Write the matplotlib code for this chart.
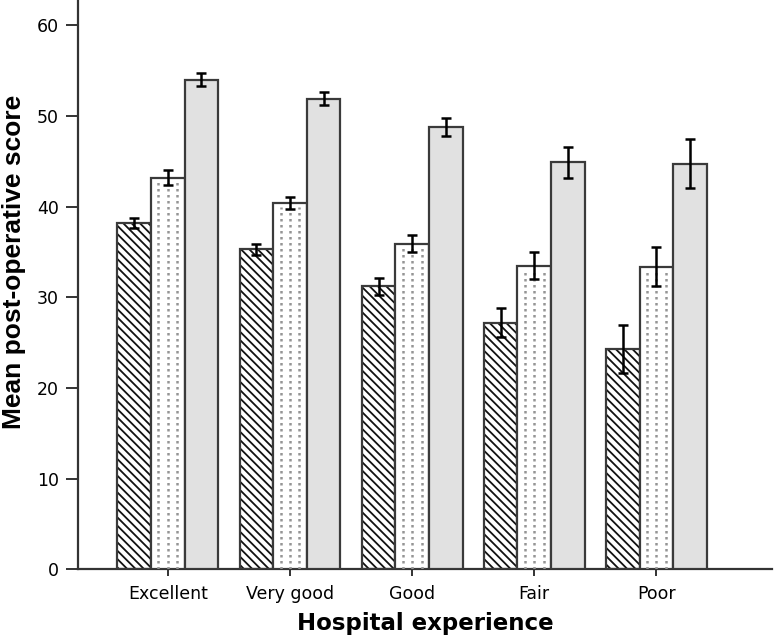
import numpy as np
import matplotlib
matplotlib.use("Agg")
import matplotlib.pyplot as plt

# --------------------------------------------------
# Data
# --------------------------------------------------
categories = ["Excellent", "Very good", "Good", "Fair", "Poor"]

hatched_means = [38.2, 35.3, 31.2, 27.2, 24.3]
hatched_err = [0.55, 0.6, 0.9, 1.6, 2.6]

dotted_means = [43.2, 40.4, 35.9, 33.5, 33.4]
dotted_err = [0.85, 0.65, 0.95, 1.45, 2.15]

gray_means = [54.0, 51.9, 48.8, 44.9, 44.75]
gray_err = [0.7, 0.7, 1.0, 1.7, 2.7]

yticks = [0, 10, 20, 30, 40, 50, 60]

# --------------------------------------------------
# Figure setup
# --------------------------------------------------
plt.rcParams['font.family'] = ['DejaVu Sans']
plt.rcParams['hatch.linewidth'] = 1.3

fig = plt.figure(figsize=(7.74, 6.38), dpi=100)
ax = fig.add_axes([0.1012, 0.1077, 0.8968, 0.8923])

x = np.arange(len(categories))
width = 0.275
edge = '#3a3a3a'

# hatched series: hatch layer, then outline on top
pos_h = x - width
ax.bar(pos_h, hatched_means, width, color='white', hatch='\\\\\\\\',
       edgecolor='#111111', linewidth=0, zorder=2)
ax.bar(pos_h, hatched_means, width, fill=False, edgecolor=edge,
       linewidth=1.6, zorder=3)

# dotted series: white bar with columns of grey dots
pos_d = x
ax.bar(pos_d, dotted_means, width, color='white', edgecolor=edge,
       linewidth=1.6, zorder=3)
for frac in (-0.28, 0.0, 0.28):
    ax.vlines(pos_d + frac * width, 0, np.array(dotted_means) - 0.4,
              colors='#959595', linewidth=1.8,
              linestyles=(0, (1, 1.4)), zorder=3.5)

# grey series
pos_g = x + width
ax.bar(pos_g, gray_means, width, color='#e1e1e1', edgecolor=edge,
       linewidth=1.6, zorder=3)

for pos, means, errs in [(pos_h, hatched_means, hatched_err),
                         (pos_d, dotted_means, dotted_err),
                         (pos_g, gray_means, gray_err)]:
    ax.errorbar(pos, means, yerr=errs, fmt='none', ecolor='black',
                elinewidth=1.8, capsize=3.4, capthick=1.8, zorder=4)

# --------------------------------------------------
# Axes formatting
# --------------------------------------------------
ax.set_xlim(-0.733, 4.95)
ax.set_ylim(0, 62.8)
ax.set_yticks(yticks)
ax.set_xticks(x)
ax.set_xticklabels(categories, fontsize=12.5)
ax.tick_params(axis='y', length=9, width=1.4, color='#333333',
               labelsize=12.5, pad=5)
ax.tick_params(axis='x', length=5, width=1.4, color='#333333', pad=6)

for side in ['top', 'right']:
    ax.spines[side].set_visible(False)
for side in ['left', 'bottom']:
    ax.spines[side].set_linewidth(1.6)
    ax.spines[side].set_color('#333333')

ax.set_xlabel('Hospital experience', fontsize=16.5, fontweight='bold',
              labelpad=7)
ax.set_ylabel('Mean post-operative score', fontsize=19, fontweight='bold',
              family=['Liberation Sans', 'DejaVu Sans'])
ax.yaxis.set_label_coords(-0.076, 0.54)

fig.savefig('out.png', dpi=100)
